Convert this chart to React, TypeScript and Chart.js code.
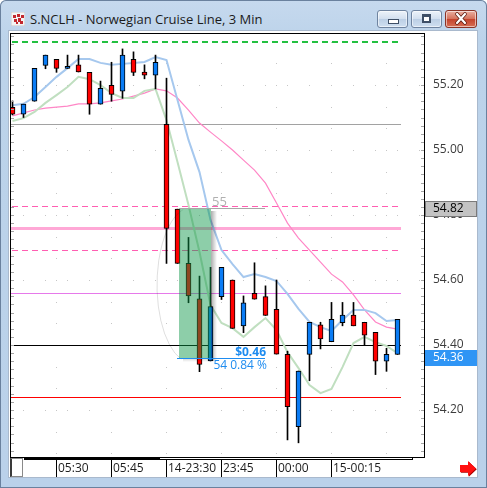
import { useEffect, useRef } from "react";
import { Chart, registerables } from "chart.js";

Chart.register(...registerables);

// 3-minute bars, oldest first
const times = [
  "05:18", "05:21", "05:24", "05:27", "05:30", "05:33", "05:36", "05:39", "05:42", "05:45",
  "05:48", "05:51", "05:54", "05:57", "23:30", "23:33", "23:36", "23:39", "23:42", "23:45",
  "23:48", "23:51", "23:54", "23:57", "00:00", "00:03", "00:06", "00:09", "00:12", "00:15",
  "00:18", "00:21", "00:24", "00:27", "00:30", "00:33",
];
const opens = [
  55.131, 55.11, 55.15, 55.26, 55.279, 55.251, 55.262, 55.239, 55.141, 55.199,
  55.181, 55.279, 55.24, 55.23, 55.079, 54.818, 54.651, 54.542, 54.351, 54.549,
  54.6, 54.459, 54.559, 54.549, 54.51, 54.371, 54.149, 54.371, 54.462, 54.41,
  54.469, 54.492, 54.47, 54.439, 54.35, 54.371,
];
const highs = [
  55.151, 55.141, 55.251, 55.292, 55.279, 55.292, 55.292, 55.239, 55.212, 55.27,
  55.311, 55.302, 55.262, 55.292, 55.221, 54.818, 54.731, 54.612, 54.639, 54.639,
  54.6, 54.551, 54.653, 54.582, 54.6, 54.381, 54.32, 54.47, 54.47, 54.531,
  54.531, 54.531, 54.47, 54.439, 54.39, 54.479,
];
const lows = [
  55.108, 55.1, 55.15, 55.25, 55.239, 55.251, 55.24, 55.11, 55.141, 55.15,
  55.159, 55.229, 55.219, 55.188, 54.651, 54.651, 54.53, 54.318, 54.351, 54.54,
  54.451, 54.438, 54.541, 54.491, 54.372, 54.108, 54.099, 54.29, 54.388, 54.41,
  54.459, 54.459, 54.4, 54.309, 54.319, 54.371,
];
const closes = [
  55.11, 55.141, 55.251, 55.292, 55.251, 55.251, 55.24, 55.141, 55.19, 55.171,
  55.292, 55.239, 55.23, 55.27, 54.759, 54.651, 54.551, 54.34, 54.518, 54.639,
  54.451, 54.53, 54.541, 54.491, 54.372, 54.21, 54.32, 54.47, 54.419, 54.479,
  54.492, 54.459, 54.43, 54.35, 54.371, 54.479,
];

// moving averages
const maBlue = [
  55.138, 55.142, 55.163, 55.194, 55.225, 55.252, 55.28, 55.28, 55.268, 55.262,
  55.265, 55.268, 55.271, 55.286, 55.277, 55.154, 55.031, 54.932, 54.785, 54.692,
  54.649, 54.609, 54.618, 54.609, 54.597, 54.557, 54.511, 54.471, 54.455, 54.443,
  54.477, 54.508, 54.508, 54.498, 54.474, 54.477,
];
const maGreen = [
  55.089, 55.098, 55.117, 55.145, 55.169, 55.194, 55.225, 55.218, 55.2, 55.175,
  55.16, 55.16, 55.182, 55.188, 55.092, 54.963, 54.831, 54.686, 54.523, 54.468,
  54.452, 54.425, 54.455, 54.483, 54.446, 54.378, 54.329, 54.277, 54.252, 54.265,
  54.332, 54.406, 54.425, 54.409, 54.397, 54.375,
];
const maPink = [
  55.105, 55.114, 55.123, 55.129, 55.132, 55.135, 55.142, 55.142, 55.145, 55.151,
  55.157, 55.166, 55.175, 55.188, 55.182, 55.16, 55.123, 55.083, 55.055, 55.028,
  55.0, 54.969, 54.938, 54.898, 54.837, 54.775, 54.729, 54.692, 54.655, 54.618,
  54.594, 54.554, 54.508, 54.471, 54.455, 54.449,
];

// time axis labels (bar index each label sits on)
const timeTickIndex = [4, 9, 14, 19, 24, 29];
const timeTickLabels = ["05:30", "05:45", "14-23:30", "23:45", "00:00", "15-00:15"];

// price axis
const priceTicks = [54.2, 54.4, 54.6, 54.8, 55.0, 55.2];
const PRICE_MIN = 54.0554;
const PRICE_MAX = 55.36;

// horizontal study levels
const levelPrices = [55.333, 55.08, 54.826, 54.76, 54.69, 54.56, 54.4, 54.24];
const levelColors = ["#22c040", "#a2a2a2", "#ff5fb2", "#ffa8d6", "#ff5fb2", "#e679ea", "#000000", "#ff0000"];
const levelThickness = [2, 1, 1, 3, 1, 1, 1, 1];
const levelDashed = [true, false, true, false, true, false, false, false];
const levelEnd = 35.35;

// price range measurement
const measureHigh = 54.822;
const measureLow = 54.36;
const measureFrom = 15.15;
const measureTo = 18.05;
const measureChange = "$0.46";
const measurePct = "54 0.84 %";
const measureBars = "55";

// price tags on the axis
const tagPrices = [54.82, 54.36];
const tagFill = ["#c3c3c3", "#2f95f5"];
const tagText = ["#000000", "#ffffff"];

const X_MIN = -2.5 / 11;
const X_MAX = (424 - 12.5) / 11;

const UI_FONT = "'Open Sans', 'Noto Sans', sans-serif";

const decor = {
  id: "decor",
  beforeDatasetsDraw(chart: any) {
    const { ctx, chartArea: a, scales } = chart;
    const x = scales.x;
    const y = scales.y;
    ctx.save();
    // dotted grid
    ctx.fillStyle = "#c6c6c6";
    for (const v of priceTicks) {
      const py = Math.round(y.getPixelForValue(v));
      for (let i = 1; i < 38; i += 2) {
        const px = Math.floor(x.getPixelForValue(i));
        if (px > a.left + 1 && px < a.right - 1) ctx.fillRect(px, py, 1, 1);
      }
    }
    for (let i = 4; i < 38; i += 5) {
      const px = Math.floor(x.getPixelForValue(i));
      for (let k = -3; k < 30; k++) {
        const py = Math.round(y.getPixelForValue(54.2 + (k * 0.2) / 3));
        if (py > a.top + 1 && py < a.bottom - 1) ctx.fillRect(px, py, 1, 1);
      }
    }
    // level lines, drawn as filled pixel rows
    const xStart = a.left + 1;
    const xEnd = Math.round(x.getPixelForValue(levelEnd));
    levelPrices.forEach((p, i) => {
      const h = levelThickness[i];
      const row = Math.round(y.getPixelForValue(p) - h / 2);
      ctx.fillStyle = levelColors[i];
      if (levelDashed[i]) {
        for (let px = xStart + 1; px < xEnd; px += 10) {
          ctx.fillRect(px, row, Math.min(6, xEnd - px), h);
        }
      } else {
        ctx.fillRect(xStart, row, xEnd - xStart, h);
      }
    });
    ctx.restore();
  },
  afterDatasetsDraw(chart: any) {
    const { ctx, scales } = chart;
    const x = scales.x;
    const y = scales.y;
    const x0 = Math.round(x.getPixelForValue(measureFrom));
    const x1 = Math.round(x.getPixelForValue(measureTo));
    const y0 = Math.round(y.getPixelForValue(measureHigh));
    const y1 = Math.round(y.getPixelForValue(measureLow));
    ctx.save();
    // faint ellipse guide
    ctx.beginPath();
    ctx.strokeStyle = "rgba(0,0,0,0.13)";
    ctx.lineWidth = 1;
    ctx.ellipse(x0 + 13, (y0 + y1) / 2 + 2, 35, 78, 0, Math.PI * 0.6, Math.PI * 1.42);
    ctx.stroke();
    // shadow on the right edge
    const g = ctx.createLinearGradient(x1, 0, x1 + 6, 0);
    g.addColorStop(0, "rgba(0,0,0,0.32)");
    g.addColorStop(1, "rgba(0,0,0,0)");
    ctx.fillStyle = g;
    ctx.fillRect(x1, y0 + 3, 6, y1 - y0);
    const gb = ctx.createLinearGradient(0, y1, 0, y1 + 4);
    gb.addColorStop(0, "rgba(0,0,0,0.18)");
    gb.addColorStop(1, "rgba(0,0,0,0)");
    ctx.fillStyle = gb;
    ctx.fillRect(x0 + 4, y1, x1 - x0 - 4, 4);
    // translucent range box
    ctx.fillStyle = "rgba(12,150,72,0.47)";
    ctx.fillRect(x0, y0, x1 - x0, y1 - y0);
    // bar count and top guide
    const xLabelEnd = Math.round(x.getPixelForValue(22.95));
    ctx.fillStyle = "#a8a8a8";
    ctx.fillRect(x0, y0, xLabelEnd - x0, 1);
    ctx.font = `13px ${UI_FONT}`;
    ctx.fillStyle = "#b0b0b0";
    ctx.textBaseline = "alphabetic";
    ctx.textAlign = "left";
    ctx.fillText(measureBars, x1 + 1, y0 - 2);
    // change readout
    ctx.fillStyle = "#1e8cf0";
    ctx.fillRect(x0 - 2, y1, xLabelEnd - x0 + 2, 1);
    ctx.textAlign = "right";
    ctx.font = `bold 12px ${UI_FONT}`;
    ctx.fillText(measureChange, xLabelEnd + 1, y1 - 2);
    ctx.font = `12px ${UI_FONT}`;
    ctx.fillText(measurePct, xLabelEnd + 2, y1 + 11);
    ctx.restore();
  },
  afterDraw(chart: any) {
    const { ctx, chartArea: a, scales } = chart;
    const x = scales.x;
    const y = scales.y;
    ctx.save();
    // minor ticks along both edges
    ctx.fillStyle = "#a6a6a6";
    for (let k = 0; k < 60; k++) {
      const v = 54.0 + k * 0.025;
      const py = Math.round(y.getPixelForValue(v));
      if (py <= a.top + 2 || py >= a.bottom - 2) continue;
      ctx.fillRect(a.left + 1, py, 3, 1);
      ctx.fillRect(a.right - 3, py, 3, 1);
    }
    // frame
    ctx.strokeStyle = "#000";
    ctx.lineWidth = 1;
    ctx.strokeRect(a.left + 0.5, a.top + 0.5, a.right - a.left, a.bottom - a.top);
    // price tags
    tagPrices.forEach((p, i) => {
      const py = Math.round(y.getPixelForValue(p));
      ctx.fillStyle = tagFill[i];
      ctx.fillRect(a.right + 1, py - 8, 52, 16);
      if (i === 0) {
        ctx.strokeStyle = "#7a7a7a";
        ctx.strokeRect(a.right + 1.5, py - 7.5, 51, 15);
      }
      ctx.fillStyle = tagText[i];
      ctx.font = `12px ${UI_FONT}`;
      ctx.textAlign = "left";
      ctx.textBaseline = "middle";
      ctx.fillText(p.toFixed(2), a.right + 9, py);
    });
    // time axis
    ctx.font = `12px ${UI_FONT}`;
    ctx.textAlign = "left";
    ctx.textBaseline = "middle";
    timeTickIndex.forEach((idx, i) => {
      const px = Math.floor(x.getPixelForValue(idx));
      ctx.fillStyle = "#000";
      ctx.fillRect(px, a.bottom + 3, 1, 17);
      ctx.fillStyle = "#1c1c1c";
      ctx.fillText(timeTickLabels[i], px + 2, a.bottom + 12);
    });
    ctx.restore();
  },
};

function CandleChart() {
  const ref = useRef<HTMLCanvasElement | null>(null);
  useEffect(() => {
    if (!ref.current) return;
    const bodies = times.map((_, i) => ({ x: i, y: [opens[i], closes[i]] }));
    const wicks = times.map((_, i) => ({ x: i, y: [lows[i], highs[i]] }));
    const bodyColors = times.map((_, i) => (closes[i] >= opens[i] ? "#0a7cf5" : "#ff0000"));
    const line = (arr: number[]) => arr.map((v, i) => ({ x: i, y: v }));
    const chart = new Chart(ref.current, {
      type: "bar",
      data: {
        datasets: [
          {
            type: "line",
            data: line(maPink),
            borderColor: "#ff86c6",
            borderWidth: 1.2,
            pointRadius: 0,
            order: 5,
          } as any,
          {
            type: "line",
            data: line(maGreen),
            borderColor: "#c0dfc0",
            borderWidth: 2,
            pointRadius: 0,
            order: 4,
          } as any,
          {
            type: "line",
            data: line(maBlue),
            borderColor: "#a6c8ee",
            borderWidth: 2,
            pointRadius: 0,
            order: 3,
          } as any,
          {
            type: "bar",
            data: wicks,
            backgroundColor: "#000",
            borderWidth: 0,
            barThickness: 1,
            grouped: false,
            order: 2,
          } as any,
          {
            type: "bar",
            data: bodies,
            backgroundColor: bodyColors,
            borderColor: "#000",
            borderWidth: 1,
            borderSkipped: false,
            barThickness: 5,
            minBarLength: 2,
            grouped: false,
            order: 1,
          } as any,
        ],
      },
      options: {
        animation: false,
        responsive: false,
        devicePixelRatio: 1,
        layout: { padding: { left: 10, top: 33, right: 9, bottom: 31 } },
        plugins: { legend: { display: false }, tooltip: { enabled: false } },
        scales: {
          x: {
            type: "linear",
            display: false,
            offset: false,
            min: X_MIN,
            max: X_MAX,
          },
          y: {
            type: "linear",
            position: "right",
            min: PRICE_MIN,
            max: PRICE_MAX,
            beginAtZero: false,
            afterBuildTicks: (s: any) => {
              s.ticks = priceTicks.map((v) => ({ value: v }));
            },
            afterFit: (s: any) => {
              s.width = 54;
            },
            grid: { display: false, drawTicks: false },
            border: { display: false },
            ticks: {
              padding: 9,
              color: "#3c3c3c",
              font: { family: UI_FONT, size: 12 },
              callback: (v: any) => Number(v).toFixed(2),
            },
          },
        },
      } as any,
      plugins: [decor],
    });
    return () => chart.destroy();
  }, []);
  return (
    <canvas
      ref={ref}
      width={487}
      height={488}
      style={{ position: "absolute", left: 0, top: 0, width: 487, height: 488 }}
    />
  );
}

function CaptionButton({ left, kind }: { left: number; kind: "min" | "max" | "close" }) {
  const isClose = kind === "close";
  return (
    <div
      style={{
        position: "absolute",
        left,
        top: 10,
        width: kind === "close" ? 32 : 31,
        height: 18,
        boxSizing: "border-box",
        border: isClose ? "1px solid #8a3326" : "1px solid #6f84a0",
        borderRadius: 3,
        background: isClose
          ? "linear-gradient(#eab0a2, #d6735d 48%, #c4432c 52%, #d66e55)"
          : "linear-gradient(#edf3fa, #d3e0ef 48%, #bccfe5 52%, #cfdff0)",
        boxShadow: "inset 0 0 0 1px rgba(255,255,255,0.55)",
      }}
    >
      {kind === "min" && (
        <div
          style={{
            position: "absolute",
            left: 10,
            top: 8,
            width: 9,
            height: 3,
            background: "#fff",
            border: "1px solid #3e4f66",
          }}
        />
      )}
      {kind === "max" && (
        <div
          style={{
            position: "absolute",
            left: 10,
            top: 3,
            width: 7,
            height: 6,
            border: "1px solid #3e4f66",
            borderTopWidth: 2,
            background: "#fff",
            boxShadow: "inset 0 0 0 1px #3e4f66",
          }}
        />
      )}
      {isClose && (
        <svg width={30} height={16} style={{ position: "absolute", left: 0, top: 0 }}>
          <path d="M11 3 L19 12 M19 3 L11 12" stroke="#5a1a10" strokeWidth={3.6} strokeLinecap="round" />
          <path d="M11 3 L19 12 M19 3 L11 12" stroke="#ffffff" strokeWidth={2.2} strokeLinecap="round" />
        </svg>
      )}
    </div>
  );
}

export default function App() {
  return (
    <div
      style={{
        position: "absolute",
        left: 0,
        top: 0,
        width: 487,
        height: 488,
        overflow: "hidden",
        background: "linear-gradient(#c6d9ee, #bcd3ea 40px, #bad1ea)",
        boxShadow: "inset 0 0 0 1px #6a819e",
        borderRadius: "6px 6px 0 0",
        fontFamily: UI_FONT,
      }}
    >
      {/* app icon */}
      <svg width={14} height={14} style={{ position: "absolute", left: 11, top: 12 }}>
        <rect x={0} y={0} width={14} height={14} fill="#f4f4f4" stroke="#c8c8c8" />
        <rect x={2} y={3} width={3} height={3} fill="#c3282e" />
        <rect x={6} y={2} width={3} height={3} fill="#c3282e" />
        <rect x={10} y={3} width={3} height={3} fill="#c3282e" />
        <rect x={3} y={7} width={3} height={3} fill="#c3282e" />
        <rect x={7} y={6} width={3} height={4} fill="#c3282e" />
        <rect x={9} y={9} width={3} height={3} fill="#c3282e" />
        <rect x={5} y={10} width={2} height={2} fill="#c3282e" />
      </svg>
      <div
        style={{
          position: "absolute",
          left: 30,
          top: 10,
          fontSize: 13,
          lineHeight: "18px",
          color: "#1b1b1b",
          whiteSpace: "nowrap",
        }}
      >
        S.NCLH - Norwegian Cruise Line, 3 Min
      </div>
      <CaptionButton left={377} kind="min" />
      <CaptionButton left={411} kind="max" />
      <CaptionButton left={445} kind="close" />
      {/* client area */}
      <div
        style={{
          position: "absolute",
          left: 8,
          top: 30,
          width: 470,
          height: 448,
          boxSizing: "border-box",
          background: "#fff",
          border: "1px solid #a9b9cd",
        }}
      />
      {/* scroll strip under the plot */}
      <div
        style={{
          position: "absolute",
          left: 10,
          top: 458,
          width: 13,
          height: 19,
          boxSizing: "border-box",
          border: "1px solid #8a8a8a",
          borderLeft: "2px solid #3a3a3a",
          background: "#fff",
        }}
      />
      <div style={{ position: "absolute", left: 24, top: 457, width: 136, height: 3, background: "#000" }} />
      <div style={{ position: "absolute", left: 160, top: 459, width: 253, height: 1, background: "#000" }} />
      <div style={{ position: "absolute", left: 412, top: 457, width: 1, height: 3, background: "#000" }} />
      {/* scroll-to-end arrow */}
      <svg width={20} height={18} style={{ position: "absolute", left: 458, top: 459 }}>
        <path d="M2 6 L10 6 L10 2 L18 9.5 L10 17 L10 13 L2 13 Z" fill="#a80000" transform="translate(0.8,0.8)" />
        <path d="M2 6 L10 6 L10 2 L18 9.5 L10 17 L10 13 L2 13 Z" fill="#ff1010" />
      </svg>
      <CandleChart />
    </div>
  );
}
